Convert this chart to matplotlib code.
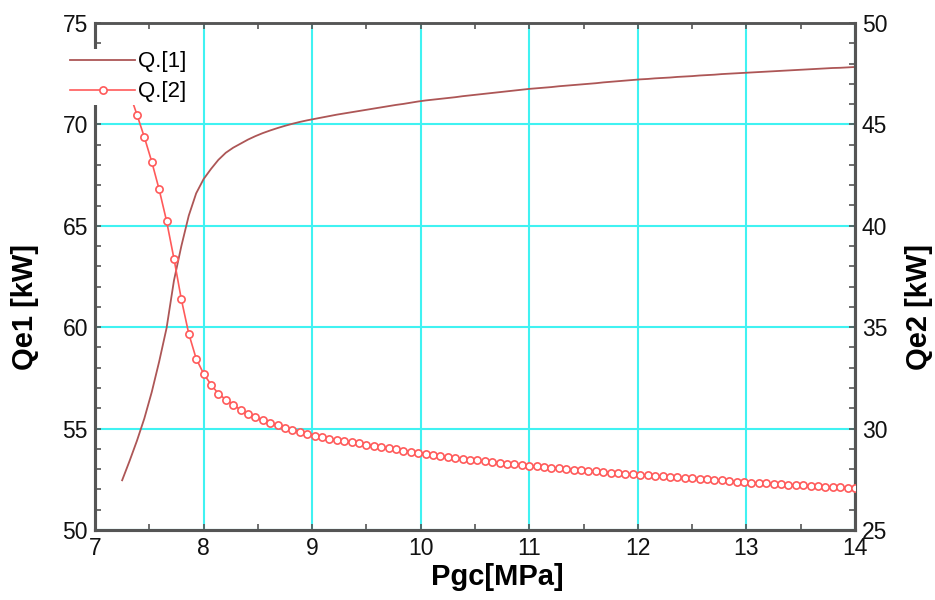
"""
Qe1 / Qe2 against gas cooler pressure, two y axes.
"""

import numpy as np
import matplotlib
matplotlib.use('Agg')
import matplotlib.pyplot as plt
from matplotlib.ticker import MultipleLocator

# gas cooler pressure [MPa], 100 evenly spaced samples
pgc = np.linspace(7.25, 14.0, 100)

# Q.[1] -> Qe1 [kW], left axis
qe1 = [
    52.45, 53.40, 54.40, 55.50, 56.80, 58.30, 59.95, 62.30, 64.00, 65.50,
    66.60, 67.30, 67.80, 68.25, 68.60, 68.85, 69.05, 69.25, 69.42, 69.57,
    69.70, 69.82, 69.93, 70.03, 70.12, 70.20, 70.27, 70.34, 70.41, 70.48,
    70.54, 70.60, 70.66, 70.72, 70.78, 70.84, 70.90, 70.96, 71.01, 71.07,
    71.13, 71.18, 71.22, 71.26, 71.30, 71.34, 71.39, 71.43, 71.47, 71.51,
    71.55, 71.59, 71.63, 71.67, 71.71, 71.75, 71.78, 71.81, 71.84, 71.88,
    71.91, 71.94, 71.97, 72.00, 72.03, 72.07, 72.10, 72.13, 72.16, 72.19,
    72.22, 72.24, 72.27, 72.29, 72.31, 72.34, 72.36, 72.38, 72.41, 72.43,
    72.45, 72.48, 72.50, 72.52, 72.54, 72.56, 72.58, 72.60, 72.62, 72.64,
    72.66, 72.68, 72.70, 72.72, 72.74, 72.76, 72.78, 72.79, 72.81, 72.83,
]

# Q.[2] -> Qe2 [kW], right axis
qe2 = [
    47.50, 46.55, 45.48, 44.37, 43.16, 41.79, 40.24, 38.38, 36.37, 34.68,
    33.45, 32.71, 32.17, 31.72, 31.43, 31.18, 30.92, 30.72, 30.56, 30.41,
    30.29, 30.16, 30.04, 29.95, 29.85, 29.73, 29.65, 29.57, 29.50, 29.44,
    29.37, 29.32, 29.27, 29.21, 29.15, 29.09, 29.03, 28.97, 28.91, 28.86,
    28.80, 28.75, 28.70, 28.65, 28.60, 28.55, 28.51, 28.47, 28.43, 28.39,
    28.35, 28.31, 28.27, 28.24, 28.20, 28.17, 28.14, 28.11, 28.07, 28.04,
    28.01, 27.98, 27.95, 27.92, 27.89, 27.86, 27.83, 27.80, 27.77, 27.74,
    27.71, 27.69, 27.66, 27.64, 27.61, 27.59, 27.56, 27.54, 27.51, 27.49,
    27.46, 27.44, 27.41, 27.39, 27.36, 27.34, 27.32, 27.30, 27.28, 27.26,
    27.24, 27.22, 27.20, 27.18, 27.16, 27.14, 27.12, 27.10, 27.08, 27.06,
]

series_labels = ['Q.[1]', 'Q.[2]']

plt.rcParams['font.family'] = ['Liberation Sans', 'DejaVu Sans']

fig = plt.figure(figsize=(9.35, 6.0), dpi=100)
ax = fig.add_axes([0.1016, 0.1167, 0.8128, 0.845])
ax2 = ax.twinx()

spine_col = '#555555'
grid_col = '#40f2f2'

l1, = ax.plot(pgc, qe1, color='#ad5656', linewidth=1.3, label=series_labels[0], zorder=3)
l2, = ax2.plot(pgc, qe2, color='#ff5a5a', linewidth=1.2, marker='o', markersize=5.2,
               markerfacecolor='white', markeredgecolor='#ff5a5a', markeredgewidth=1.2,
               label=series_labels[1], zorder=3)

ax.set_xlim(7, 14)
ax.set_ylim(50, 75)
ax2.set_ylim(25, 50)

ax.xaxis.set_major_locator(MultipleLocator(1))
ax.xaxis.set_minor_locator(MultipleLocator(0.5))
ax.yaxis.set_major_locator(MultipleLocator(5))
ax.yaxis.set_minor_locator(MultipleLocator(1))
ax2.yaxis.set_major_locator(MultipleLocator(5))
ax2.yaxis.set_minor_locator(MultipleLocator(1))

ax.grid(True, which='major', color=grid_col, linewidth=1.5)
ax.set_axisbelow(True)

for a in (ax, ax2):
    a.tick_params(which='both', direction='in', color=spine_col, labelsize=16.5,
                  labelcolor='#111111', top=(a is ax), width=1.2)
    a.tick_params(which='major', length=4, pad=5)
    a.tick_params(which='minor', length=4)
    for side, sp in a.spines.items():
        sp.set_color(spine_col)
        sp.set_linewidth(2.2 if side in ('left', 'bottom', 'right') else 1.8)

ax.set_xlabel('Pgc[MPa]', fontsize=21, fontweight='bold')
ax.set_ylabel('Qe1 [kW]', fontsize=21, fontweight='bold')
ax2.set_ylabel('Qe2 [kW]', fontsize=21, fontweight='bold')
ax.xaxis.set_label_coords(0.53, -0.066)
ax.yaxis.set_label_coords(-0.074, 0.44)
ax2.yaxis.set_label_coords(1.066, 0.44)

fig.legend(handles=[l1, l2], loc='upper left', bbox_to_anchor=(0.073, 0.918),
           fontsize=16, frameon=True, facecolor='white', edgecolor='none',
           framealpha=1, borderpad=0.1, borderaxespad=0, handlelength=2.9,
           handletextpad=0.15, labelspacing=0.4)

fig.savefig('out.png', dpi=100, facecolor='white')
plt.close(fig)
